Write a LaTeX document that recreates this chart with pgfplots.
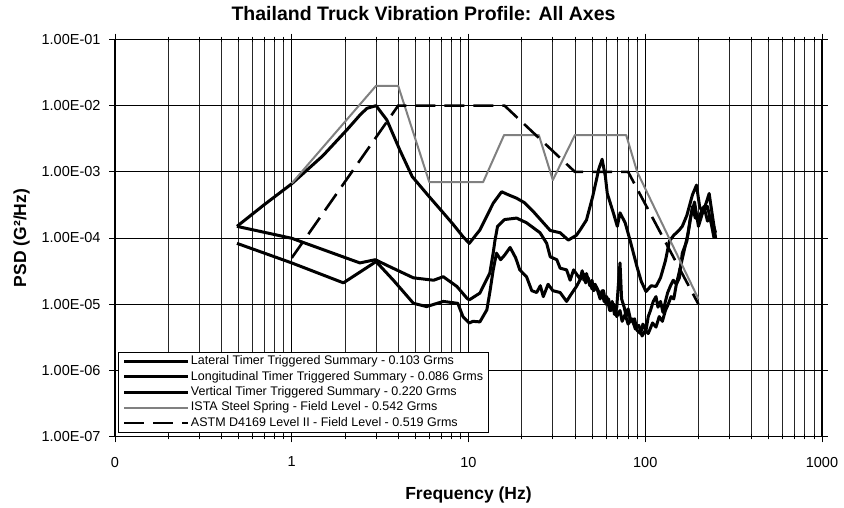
\documentclass[border=0pt]{standalone}
\usepackage{fontspec}
\setmainfont{Liberation Sans}
\usepackage{pgfplots}
\pgfplotsset{compat=1.18}
\begin{document}
\begin{tikzpicture}
\begin{axis}[
  scale only axis, width=707pt, height=397pt,
  xmode=log, ymode=log,
  xmin=0.1, xmax=1000, ymin=1e-7, ymax=1e-1,
  xtick={0.1,1,10,100,1000}, xticklabels={0,1,10,100,1000},
  minor xtick={0.2,0.3,0.4,0.5,0.6,0.7,0.8,0.9,2,3,4,5,6,7,8,9,20,30,40,50,60,70,80,90,200,300,400,500,600,700,800,900},
  ytick={1e-7,1e-6,1e-5,1e-4,1e-3,1e-2,1e-1},
  yticklabels={1.00E-07,1.00E-06,1.00E-05,1.00E-04,1.00E-03,1.00E-02,1.00E-01},
  yminorticks=false,
  xmajorgrids, xminorgrids, ymajorgrids,
  major grid style={black, line width=0.9pt},
  minor grid style={black!85, line width=0.8pt},
  tick align=center, major tick length=12pt, minor tick length=6pt,
  tick style={black, line width=0.8pt},
  axis line style={black, line width=1pt},
  ticklabel style={font=\fontsize{14.5}{16}\selectfont},
  xticklabel style={yshift=-11pt},
  yticklabel style={xshift=-5pt},
  title={Thailand Truck Vibration Profile: All Axes},
  title style={at={(axis description cs:0.4364,1.0315)}, anchor=base, font=\fontsize{19.5}{22}\selectfont\bfseries},
  xlabel={Frequency (Hz)},
  xlabel style={at={(axis description cs:0.5,-0.1594)}, anchor=base, font=\fontsize{17.5}{20}\selectfont\bfseries},
  ylabel={PSD (G²/Hz)},
  ylabel style={at={(axis description cs:-0.1320,0.5)}, anchor=center, font=\fontsize{17.5}{20}\selectfont\bfseries},
  legend style={at={(axis description cs:0,0)}, anchor=south west, xshift=3.5pt, yshift=3.7pt,
    draw=black, line width=0.9pt, fill=white, font=\fontsize{12.5}{14}\selectfont,
    inner xsep=4pt, inner ysep=1.5pt, row sep=0pt,
    nodes={inner xsep=1pt, inner ysep=1.6pt, text height=9.3pt, text depth=2.9pt},
    cells={anchor=west}},
  legend image code/.code={\draw[#1] (0pt,0pt) -- (64pt,0pt);},
]
% Lateral
\addplot[black, line width=3pt, line join=round] coordinates {
(0.49,1.5e-4) (1,9.9e-5) (2.43,4.2e-5) (2.97,4.7e-5) (3.5,3.8e-5) (4.88,2.5e-5) (6.35,2.3e-5) (7.2,2.6e-5) (8.6,1.85e-5) (9.8,1.23e-5) (10.1,1.16e-5) (11.6,1.47e-5) (13.2,2.95e-5) (13.8,6e-5) (14.1,9e-5) (14.6,1.5e-4) (16,1.9e-4) (18.7,2e-4) (21.3,1.7e-4) (25.4,1.2e-4) (27.7,8.3e-5) (29,5.2e-5) (31.6,4.7e-5) (33,3.5e-5) (35.9,3.3e-5) (37.6,2.3e-5) (39.3,3.3e-5) (42.8,2.4e-5) (44,3.2e-5) (45,2.3e-5) (46.5,2.9e-5) (48.6,1.9e-5) (50,2.3e-5) (51,1.6e-5) (53,1.8e-5) (55.6,1.2e-5) (57,1.6e-5) (58.5,1.1e-5) (60.5,1.3e-5) (63,8e-6) (65,1.1e-5) (67,7e-6) (69,9e-6) (70.5,2e-5) (72,4.2e-5) (73.5,1.2e-5) (76,9e-6) (78,6.5e-6) (80,8.5e-6) (83,5.5e-6) (87,6e-6) (90,4e-6) (94,3.6e-6) (97,5e-6) (101,4e-6) (104,6.5e-6) (107,8e-6) (111,1.1e-5) (115,1.3e-5) (118,9e-6) (122,1.1e-5) (126,7.5e-6) (130,1.1e-5) (134,1.5e-5) (139,1.9e-5) (144,2.3e-5) (150,2e-5) (155,2.9e-5) (165,6e-5) (175,1.2e-4) (185,3e-4) (192,2e-4) (200,2e-4) (215,3e-4) (225,1.8e-4) (235,2.1e-4) (250,1.2e-4)
};
\addlegendentry{Lateral Timer Triggered Summary - 0.103 Grms}
% Longitudinal
\addplot[black, line width=3pt, line join=round] coordinates {
(0.49,8.3e-5) (1,4.2e-5) (1.96,2.1e-5) (3,4.4e-5) (3.76,2.3e-5) (4.88,1.03e-5) (5.8,9.2e-6) (7.2,1.1e-5) (8.7,1.03e-5) (9.3,6.5e-6) (10.1,5.2e-6) (10.6,5.5e-6) (11.6,5.4e-6) (12.7,8.2e-6) (13.2,1.5e-5) (13.8,3.3e-5) (14.4,5.9e-5) (15.2,4.7e-5) (16,5.5e-5) (17.2,7.2e-5) (18.5,5e-5) (19.5,3.3e-5) (21.3,2.6e-5) (22.8,1.6e-5) (24.3,1.5e-5) (25.5,1.9e-5) (26.5,1.3e-5) (28.2,2e-5) (30,1.6e-5) (33,1.5e-5) (35.9,1.1e-5) (38,1.4e-5) (40.8,1.85e-5) (44.7,2.9e-5) (46,2.1e-5) (47.5,2.5e-5) (50,1.7e-5) (52,2e-5) (55.6,1.4e-5) (58,1.6e-5) (60,1e-5) (62,1.2e-5) (64,8e-6) (66.5,1e-5) (69,6.5e-6) (72,8e-6) (74,5.5e-6) (77,7e-6) (80,5e-6) (84,6e-6) (88,4.2e-6) (92,4.8e-6) (96,3.3e-6) (100,4e-6) (104,3.6e-6) (110,5.2e-6) (115,4.5e-6) (120,6.5e-6) (125,5.5e-6) (130,8e-6) (135,1e-5) (140,1.3e-5) (145,1.2e-5) (150,2e-5) (156,2.5e-5) (162,5.9e-5) (172,9e-5) (180,2e-4) (190,3.5e-4) (200,1.5e-4) (212,2.5e-4) (225,3e-4) (238,1.5e-4) (245,1e-4)
};
\addlegendentry{Longitudinal Timer Triggered Summary - 0.086 Grms}
% Vertical
\addplot[black, line width=3pt, line join=round] coordinates {
(0.49,1.5e-4) (0.7,3.2e-4) (1,6.6e-4) (1.5,1.75e-3) (2.05,4.3e-3) (2.43,7.2e-3) (2.66,9.1e-3) (3,1e-2) (3.45,6.1e-3) (4.1,2.1e-3) (4.8,8.5e-4) (6,4.2e-4) (7.2,2.4e-4) (8.2,1.6e-4) (9.3,1.05e-4) (10.1,8.3e-5) (11.6,1.32e-4) (13.8,3.36e-4) (15.4,5e-4) (16.8,4.5e-4) (18.7,4e-4) (20.8,3.4e-4) (23.3,2.5e-4) (26,1.8e-4) (29,1.3e-4) (33,1.2e-4) (36.7,9.3e-5) (40.8,1.1e-4) (42.8,1.32e-4) (46.5,1.87e-4) (50.4,4.2e-4) (54.6,1.1e-3) (57,1.55e-3) (59.5,8.5e-4) (61,4.7e-4) (66,2.4e-4) (69.5,1.5e-4) (72,2.4e-4) (77,1.7e-4) (82,9.3e-5) (90,3.6e-5) (95,2.2e-5) (101,1.55e-5) (108,1.9e-5) (115,1.85e-5) (122,2.5e-5) (130,4.5e-5) (137,9e-5) (145,1.1e-4) (155,1.3e-4) (162,1.5e-4) (172,2.2e-4) (185,4.5e-4) (195,6.3e-4) (203,3e-4) (212,2.4e-4) (222,3.5e-4) (230,4.7e-4) (238,2.5e-4) (245,1.5e-4) (250,1e-4)
};
\addlegendentry{Vertical Timer Triggered Summary - 0.220 Grms}
% ISTA
\addplot[black!50, line width=2pt, line join=round] coordinates {
(1,6.7e-4) (3,2e-2) (4,2e-2) (6,7e-4) (12.1,7e-4) (15.9,3.6e-3) (25,3.6e-3) (30,7.5e-4) (40,3.6e-3) (78,3.6e-3) (90,1e-3) (200,1.2e-5)
};
\addlegendentry{ISTA Steel Spring - Field Level - 0.542 Grms}
% ASTM
\addplot[black, line width=2.6pt, dash pattern=on 20pt off 9pt] coordinates {
(1,5e-5) (4,1e-2) (16,1e-2) (40,1e-3) (80,1e-3) (200,1e-5)
};
\addlegendentry{ASTM D4169 Level II - Field Level - 0.519 Grms}
\end{axis}
\pgfresetboundingbox
\path (-115pt,-71.3pt) rectangle (729pt,436.5pt);
\end{tikzpicture}
\end{document}
